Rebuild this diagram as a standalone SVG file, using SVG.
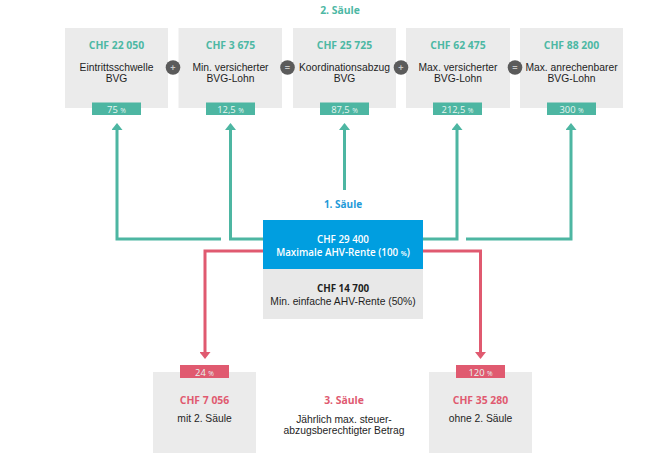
<svg xmlns="http://www.w3.org/2000/svg" width="669" height="474" viewBox="0 0 669 474">
<style>
.box{fill:#ebebeb}
.tag{fill:#4db6a2}
.rtag{fill:#e05a70}
.amt{font-family:"Open Sans","Liberation Sans",sans-serif;font-weight:700;font-size:10.4px;fill:#4db8a4;text-anchor:middle}
.ramt{font-family:"Open Sans","Liberation Sans",sans-serif;font-weight:700;font-size:10.4px;fill:#e05a70;text-anchor:middle}
.desc{font-family:"Liberation Sans","Arial",sans-serif;font-size:10.3px;fill:#1e1e1e;text-anchor:middle}
.pct{font-family:"Open Sans","Liberation Sans",sans-serif;font-size:9.4px;fill:#e6f5f1;text-anchor:middle}
.pct tspan{font-size:6.8px}
.op{fill:#5b5b5b}
.opt{font-family:"Liberation Sans",sans-serif;font-size:9px;font-weight:700;fill:#c8c8c8;text-anchor:middle}
.teal{fill:none;stroke:#4db6a2;stroke-width:3}
.red{fill:none;stroke:#e05a70;stroke-width:3}
.w{font-family:"Open Sans","Liberation Sans",sans-serif;font-weight:600;font-size:9.8px;fill:#ffffff;text-anchor:middle}
</style>
<defs>
<marker id="at" markerUnits="userSpaceOnUse" viewBox="0 0 7 11" refX="0" refY="5.5" markerWidth="7" markerHeight="11" orient="auto"><path d="M0,0 L7,5.5 L0,11 z" fill="#4db6a2"/></marker>
<marker id="ar" markerUnits="userSpaceOnUse" viewBox="0 0 7 11" refX="0" refY="5.5" markerWidth="7" markerHeight="11" orient="auto"><path d="M0,0 L7,5.5 L0,11 z" fill="#e05a70"/></marker>
</defs>
<rect width="669" height="474" fill="#ffffff"/>

<text x="340" y="14" class="amt">2. Säule</text>

<g id="connectors">
<path class="teal" d="M221,239 H117 V130" marker-end="url(#at)"/>
<path class="teal" d="M263,239 H230.5 V130" marker-end="url(#at)"/>
<path class="teal" d="M344.5,190 V130" marker-end="url(#at)"/>
<path class="teal" d="M423,239 H457 V130" marker-end="url(#at)"/>
<path class="teal" d="M466,239 H571 V130" marker-end="url(#at)"/>
<path class="red" d="M263,251 H205 V352" marker-end="url(#ar)"/>
<path class="red" d="M423,251 H480.5 V352" marker-end="url(#ar)"/>
</g>

<g id="n1">
<rect class="box" x="65" y="28" width="103" height="80"/>
<text x="116.5" y="48.5" class="amt">CHF 22 050</text>
<text x="116.5" y="70.5" class="desc">Eintrittsschwelle</text>
<text x="116.5" y="81.5" class="desc">BVG</text>
<rect class="tag" x="92" y="102.5" width="49" height="12.5"/>
<text x="116.5" y="112.5" class="pct">75 <tspan>%</tspan></text>
</g>
<g id="n2">
<rect class="box" x="178.5" y="28" width="103.5" height="80"/>
<text x="230.5" y="48.5" class="amt">CHF 3 675</text>
<text x="230.5" y="70.5" class="desc">Min. versicherter</text>
<text x="230.5" y="81.5" class="desc">BVG-Lohn</text>
<rect class="tag" x="206" y="102.5" width="49" height="12.5"/>
<text x="230.5" y="112.5" class="pct">12,5 <tspan>%</tspan></text>
</g>
<g id="n3">
<rect class="box" x="293" y="28" width="103" height="80"/>
<text x="344.5" y="48.5" class="amt">CHF 25 725</text>
<text x="344.5" y="70.5" class="desc">Koordinationsabzug</text>
<text x="344.5" y="81.5" class="desc">BVG</text>
<rect class="tag" x="320" y="102.5" width="49" height="12.5"/>
<text x="344.5" y="112.5" class="pct">87,5 <tspan>%</tspan></text>
</g>
<g id="n4">
<rect class="box" x="406" y="28" width="104" height="80"/>
<text x="458" y="48.5" class="amt">CHF 62 475</text>
<text x="458" y="70.5" class="desc">Max. versicherter</text>
<text x="458" y="81.5" class="desc">BVG-Lohn</text>
<rect class="tag" x="433" y="102.5" width="49" height="12.5"/>
<text x="457.5" y="112.5" class="pct">212,5 <tspan>%</tspan></text>
</g>
<g id="n5">
<rect class="box" x="520" y="28" width="103" height="80"/>
<text x="571.5" y="48.5" class="amt">CHF 88 200</text>
<text x="571.5" y="70.5" class="desc">Max. anrechenbarer</text>
<text x="571.5" y="81.5" class="desc">BVG-Lohn</text>
<rect class="tag" x="547" y="102.5" width="49" height="12.5"/>
<text x="571.5" y="112.5" class="pct">300 <tspan>%</tspan></text>
</g>

<g id="ops">
<circle class="op" cx="173" cy="67.5" r="7.3"/><text x="173" y="70.8" class="opt">+</text>
<circle class="op" cx="287.5" cy="67.5" r="7.3"/><text x="287.5" y="70.8" class="opt">=</text>
<circle class="op" cx="401" cy="67.5" r="7.3"/><text x="401" y="70.8" class="opt">+</text>
<circle class="op" cx="515" cy="67.5" r="7.3"/><text x="515" y="70.8" class="opt">=</text>
</g>

<text x="343" y="208" font-family="'Open Sans','Liberation Sans',sans-serif" font-weight="700" font-size="10" fill="#1e9ad8" text-anchor="middle">1. Säule</text>

<g id="ahv">
<rect x="263" y="220" width="160" height="49" fill="#009ee0"/>
<text x="343" y="242.5" class="w">CHF 29 400</text>
<text x="343" y="255.5" class="w">Maximale AHV-Rente (100 <tspan font-size="7">%</tspan>)</text>
<rect x="263" y="269" width="160" height="50" fill="#e8e8e8"/>
<text x="343" y="292" font-family="'Open Sans','Liberation Sans',sans-serif" font-weight="700" font-size="9.8" fill="#1e1e1e" text-anchor="middle">CHF 14 700</text>
<text x="343" y="304.5" class="desc">Min. einfache AHV-Rente (50%)</text>
</g>

<g id="s3a">
<rect class="box" x="153" y="372" width="103" height="81"/>
<rect class="rtag" x="180" y="365" width="49" height="13"/>
<text x="204.5" y="375.5" class="pct">24 <tspan>%</tspan></text>
<text x="204.5" y="404" class="ramt">CHF 7 056</text>
<text x="204.5" y="422" class="desc">mit 2. Säule</text>
</g>

<g id="s3label">
<text x="344" y="404" class="ramt">3. Säule</text>
<text x="344" y="423" class="desc">Jährlich max. steuer-</text>
<text x="344" y="434" class="desc">abzugsberechtigter Betrag</text>
</g>

<g id="s3b">
<rect class="box" x="429" y="372" width="103" height="81"/>
<rect class="rtag" x="456" y="365" width="49" height="13"/>
<text x="480.5" y="375.5" class="pct">120 <tspan>%</tspan></text>
<text x="480.5" y="404" class="ramt">CHF 35 280</text>
<text x="480.5" y="422" class="desc">ohne 2. Säule</text>
</g>
</svg>
